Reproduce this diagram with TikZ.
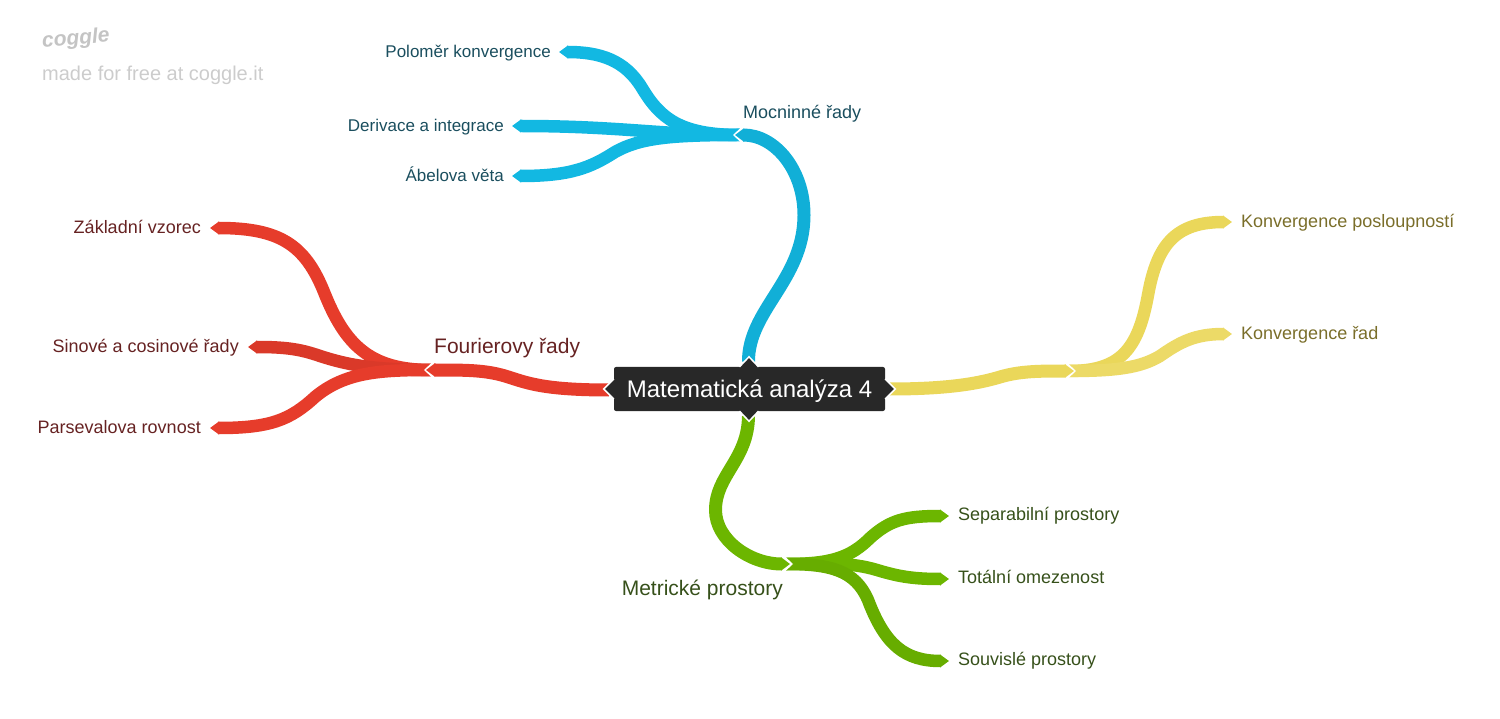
\documentclass[tikz,border=0pt]{standalone}
\usepackage{fontspec}
\setmainfont{Liberation Sans}
\definecolor{rootfill}{RGB}{40,40,40}
\definecolor{bluebr}{RGB}{18,184,226}
\definecolor{bluetx}{RGB}{26,78,94}
\definecolor{redbr}{RGB}{230,60,43}
\definecolor{redtx}{RGB}{102,34,34}
\definecolor{greenbr}{RGB}{108,182,0}
\definecolor{greentx}{RGB}{54,80,26}
\definecolor{yellowbr}{RGB}{234,215,90}
\definecolor{yellowtx}{RGB}{122,110,42}
\usetikzlibrary{arrows.meta,positioning,calc}

\begin{document}
\begin{tikzpicture}[
    x=1pt, y=-1pt,
    root/.style   = {fill=rootfill, rounded corners=2pt, text=white, minimum width=271pt,
                     minimum height=44pt, inner sep=0pt, text height=20pt, text depth=3.2pt,
                     font=\fontsize{24}{28}\selectfont},
    leaf/.style   = {inner xsep=9pt, inner ysep=0pt, text height=11pt, text depth=0.5pt,
                     font=\fontsize{18}{22}\selectfont},
    smallleaf/.style = {leaf, inner xsep=8pt, font=\fontsize{17}{20}\selectfont},
    greenleaf/.style = {leaf, text height=9pt, text=greentx},
    topic/.style  = {inner sep=0pt, text height=9pt, text depth=0.5pt},
    branch/.style = {line width=12.5pt, -{Triangle[length=9pt,width=12.5pt]}},
    trunk/.style  = {line width=13pt, -{Triangle[length=9pt,width=13pt]}},
    notch/.style  = {fill=white},
    rootmark/.style = {fill=rootfill, draw=white, line width=1.5pt},
  ]
    \useasboundingbox (0,0) rectangle (1500,719);

    \node[root] (root) at (749.5,389) {Matematická analýza 4};

    \node[inner sep=0pt, anchor=west, rotate=5, text=black!23, font=\fontsize{21}{24}\selectfont\bfseries\itshape]
      (logo) at (42,42) {coggle};
    \node[inner sep=0pt, anchor=west, text=black!20, font=\fontsize{20}{24}\selectfont]
      (made) at (42,75) {made for free at coggle.it};

    \coordinate (mocjoin) at (740,135);
    \coordinate (moctip)  at (735,135);
    \coordinate (foujoin) at (431,370);
    \coordinate (foutip)  at (426,370);
    \coordinate (metjoin) at (786,564);
    \coordinate (mettip)  at (790,564);
    \coordinate (konjoin) at (1069,371);
    \coordinate (kontip)  at (1074,371);

    \node[topic, above right=16pt and 3pt of mocjoin, text=bluetx, font=\fontsize{18}{22}\selectfont] (moc) {Mocninné řady};
    \node[topic, above right=16pt and 3pt of foujoin, text=redtx, font=\fontsize{21}{25}\selectfont] (fou) {Fourierovy řady};
    \node[topic, below left=22pt and 3pt of metjoin, text=greentx, font=\fontsize{21}{25}\selectfont] (met) {Metrické prostory};

    \node[smallleaf, anchor=east, text=bluetx] (pol) at (559,52)  {Poloměr konvergence};
    \node[smallleaf, anchor=east, text=bluetx] (der) at (512,126) {Derivace a integrace};
    \node[smallleaf, anchor=east, text=bluetx] (abe) at (512,176) {Ábelova věta};

    \node[leaf, anchor=east, text=redtx] (zak) at (210,228) {Základní vzorec};
    \node[leaf, anchor=east, text=redtx] (sin) at (248,347) {Sinové a cosinové řady};
    \node[leaf, anchor=east, text=redtx] (par) at (210,428) {Parsevalova rovnost};

    \node[greenleaf, anchor=west] (sep) at (949,516) {Separabilní prostory};
    \node[greenleaf, anchor=west] (tot) at (949,579) {Totální omezenost};
    \node[greenleaf, anchor=west] (sou) at (949,661) {Souvislé prostory};

    \node[leaf, anchor=west, text=yellowtx] (kpo) at (1232,222) {Konvergence posloupností};
    \node[leaf, anchor=west, text=yellowtx] (kra) at (1232,334) {Konvergence řad};

    \coordinate (rootn) at ($(root.north)+(-1,-5)$);
    \coordinate (roots) at ($(root.south)+(-1,5)$);
    \coordinate (rootw) at ($(root.west)+(-5,1)$);
    \coordinate (roote) at ($(root.east)+(5,0)$);

    \draw[branch, color=bluebr] (mocjoin) .. controls (680,135) and (660,118) .. (642,88)
        .. controls (625,60) and (600,52) .. (pol.east);
    \draw[branch, color=bluebr] (mocjoin) .. controls (660,135) and (620,126) .. (der.east);
    \draw[branch, color=bluebr] (mocjoin) .. controls (670,135) and (640,138) .. (615,152)
        .. controls (590,168) and (570,176) .. (abe.east);
    \fill[notch] ($(mocjoin)+(1,-7.5)$) -- ($(mocjoin)+(-7,0)$) -- ($(mocjoin)+(1,7.5)$) -- cycle;
    \draw[trunk, color=bluebr!95!black] (rootn) .. controls (748,310) and (804,280) .. (804,215)
        .. controls (804,170) and (775,135) .. (moctip);

    \draw[branch, color=redbr] (foujoin) .. controls (370,370) and (345,345) .. (324,292)
        .. controls (305,245) and (280,228) .. (zak.east);
    \draw[branch, color=redbr!95!black] (foujoin) .. controls (370,370) and (345,364) .. (320,356)
        .. controls (300,349) and (285,347) .. (sin.east);
    \draw[branch, color=redbr] (foujoin) .. controls (380,370) and (345,372) .. (315,397)
        .. controls (290,420) and (270,428) .. (par.east);
    \fill[notch] ($(foujoin)+(1,-7.5)$) -- ($(foujoin)+(-7,0)$) -- ($(foujoin)+(1,7.5)$) -- cycle;
    \draw[trunk, color=redbr] (rootw) .. controls (540,390) and (525,382) .. (505,376)
        .. controls (485,370) and (465,370) .. (foutip);

    \draw[branch, color=greenbr] (metjoin) .. controls (830,564) and (850,558) .. (870,538)
        .. controls (890,520) and (905,516) .. (sep.west);
    \draw[branch, color=greenbr] (metjoin) .. controls (830,564) and (850,562) .. (877,570)
        .. controls (900,577) and (915,579) .. (tot.west);
    \draw[branch, color=greenbr!95!black] (metjoin) .. controls (830,564) and (855,570) .. (868,600)
        .. controls (885,645) and (905,661) .. (sou.west);
    \fill[notch] ($(metjoin)+(-1,-7.5)$) -- ($(metjoin)+(7,0)$) -- ($(metjoin)+(-1,7.5)$) -- cycle;
    \draw[trunk, color=greenbr] (roots) .. controls (748,460) and (715.5,475) .. (715.5,510)
        .. controls (715.5,540) and (750,564) .. (mettip);

    \draw[branch, color=yellowbr] (konjoin) .. controls (1120,371) and (1138,350) .. (1148,295)
        .. controls (1157,245) and (1175,222) .. (kpo.west);
    \draw[branch, color=yellowbr!92!white] (konjoin) .. controls (1115,371) and (1140,368) .. (1160,356)
        .. controls (1180,342) and (1195,334) .. (kra.west);
    \fill[notch] ($(konjoin)+(-1,-7.5)$) -- ($(konjoin)+(7,0)$) -- ($(konjoin)+(-1,7.5)$) -- cycle;
    \draw[trunk, color=yellowbr] (roote) .. controls (950,389) and (980,383) .. (1000,377)
        .. controls (1020,371) and (1040,371) .. (kontip);

    \path[rootmark] ($(root.north)+(-10,0)$) -- ($(root.north)+(-0.5,-10)$) -- ($(root.north)+(9,0)$);
    \path[rootmark] ($(root.south)+(-10,0)$) -- ($(root.south)+(-0.5,10)$) -- ($(root.south)+(9,0)$);
    \path[rootmark] ($(root.west)+(0,-10)$) -- ($(root.west)+(-10,0)$) -- ($(root.west)+(0,10)$);
    \path[rootmark] ($(root.east)+(0,-10)$) -- ($(root.east)+(10,0)$) -- ($(root.east)+(0,10)$);
  \end{tikzpicture}
\end{document}
